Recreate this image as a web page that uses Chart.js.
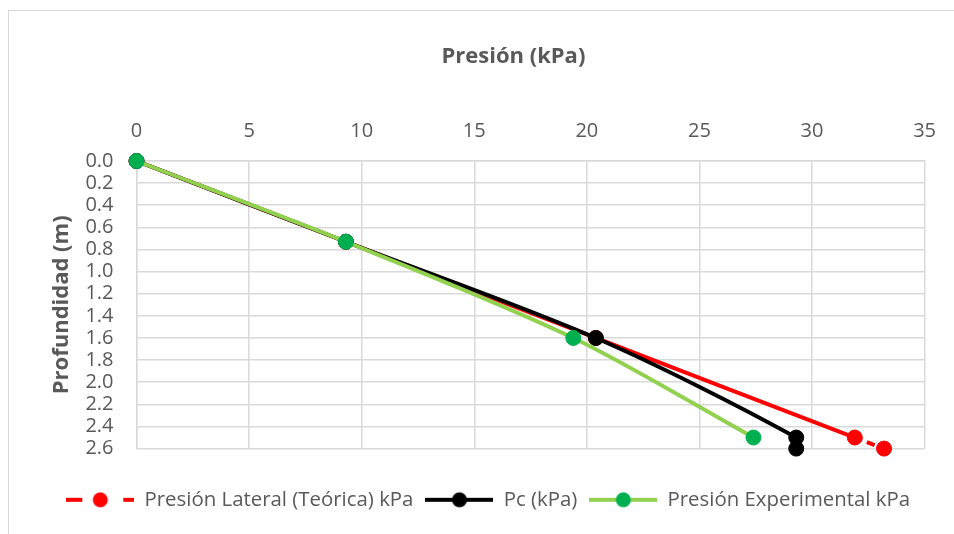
<!DOCTYPE html>
<html>
<head>
<meta charset="utf-8">
<script src="https://cdn.jsdelivr.net/npm/chart.js@4.4.1/dist/chart.umd.min.js"></script>
<style>
  html, body { margin: 0; padding: 0; background: #ffffff; }
  #wrap { position: relative; width: 954px; height: 534px; overflow: hidden; }
  #wrap canvas { position: absolute; left: 0; top: 0; }
  #frame { position: absolute; left: 8px; top: 10px; width: 1000px; height: 600px;
           border: 1px solid #d9d9d9; pointer-events: none; }
</style>
</head>
<body>
<div id="wrap">
  <canvas id="chart" width="954" height="534"></canvas>
  <div id="frame"></div>
</div>
<script>
// Series names (legend)
const seriesNames = ['Presión Lateral (Teórica) kPa', 'Pc (kPa)', 'Presión Experimental kPa'];

// Presión Lateral (Teórica): pressure (kPa) vs depth (m)
const lateralDepth = [0, 0.73, 1.6, 2.5, 2.6];
const lateralPressure = [0, 9.3, 20.4, 31.9, 33.2];

// Pc (kPa)
const pcDepth = [0, 0.73, 1.6, 2.5, 2.6];
const pcPressure = [0, 9.3, 20.4, 29.3, 29.3];

// Presión Experimental
const expDepth = [0, 0.73, 1.6, 2.5];
const expPressure = [0, 9.3, 19.4, 27.4];

// Axis titles and ranges
const xTitle = 'Presión (kPa)';
const yTitle = 'Profundidad (m)';
const xRange = [0, 35];
const yRange = [0, 2.6];

const FONT = "'Open Sans', sans-serif";
const TEXT = '#595959';
const GRID = '#d9d9d9';
const RED = '#ff0000';
const BLACK = '#000000';
const GREEN_LINE = '#92d050';
const GREEN_MARK = '#00b050';

Chart.defaults.font.family = FONT;

const toPoints = (xs, ys) => xs.map((x, i) => ({ x: x, y: ys[i] }));

// Legend key: a short line with the marker in its middle
function legendSymbol(lineColor, markerColor, dashed) {
  const c = document.createElement('canvas');
  c.width = 68; c.height = 20;
  const g = c.getContext('2d');
  g.strokeStyle = lineColor;
  g.lineWidth = 4;
  g.beginPath();
  if (dashed) {
    g.moveTo(0, 10); g.lineTo(16, 10);
    g.moveTo(57, 10); g.lineTo(68, 10);
  } else {
    g.moveTo(0, 10); g.lineTo(68, 10);
  }
  g.stroke();
  g.fillStyle = markerColor;
  g.beginPath();
  g.arc(34, 10, 7.5, 0, Math.PI * 2);
  g.fill();
  return c;
}

const symbols = [
  legendSymbol(RED, RED, true),
  legendSymbol(BLACK, BLACK, false),
  legendSymbol(GREEN_LINE, GREEN_MARK, false)
];

function series(label, xs, ys, lineColor, markColor, order, extra) {
  return Object.assign({
    label: label,
    data: toPoints(xs, ys),
    showLine: true,
    clip: false,
    borderColor: lineColor,
    backgroundColor: markColor,
    borderWidth: 4,
    tension: 0.3,
    pointRadius: 7.5,
    pointHoverRadius: 7.5,
    pointBackgroundColor: markColor,
    pointBorderColor: markColor,
    pointBorderWidth: 1,
    order: order
  }, extra || {});
}

new Chart(document.getElementById('chart'), {
  type: 'scatter',
  data: {
    datasets: [
      series(seriesNames[0], lateralPressure, lateralDepth, RED, RED, 3, {
        segment: {
          borderDash: ctx => ctx.p1DataIndex === lateralPressure.length - 1 ? [8, 5] : undefined
        }
      }),
      series(seriesNames[1], pcPressure, pcDepth, BLACK, BLACK, 2),
      series(seriesNames[2], expPressure, expDepth, GREEN_LINE, GREEN_MARK, 1)
    ]
  },
  options: {
    responsive: false,
    animation: false,
    devicePixelRatio: 1,
    layout: { padding: { left: 40, right: 17.6, top: 10, bottom: 14 } },
    scales: {
      x: {
        type: 'linear',
        position: 'top',
        min: xRange[0],
        max: xRange[1],
        ticks: { stepSize: 5, autoSkip: false, color: TEXT, font: { size: 20 }, padding: 18 },
        grid: { color: GRID, lineWidth: 1.5, drawTicks: false },
        border: { color: GRID, width: 1.5 },
        title: {
          display: true,
          text: xTitle + '\u00a0\u00a0\u00a0\u00a0\u00a0\u00a0',
          color: TEXT,
          font: { size: 22, weight: 'bold' },
          padding: { top: 33.8, bottom: 30.8 }
        }
      },
      y: {
        type: 'linear',
        reverse: true,
        min: yRange[0],
        max: yRange[1],
        ticks: {
          stepSize: 0.2,
          autoSkip: false,
          color: TEXT,
          font: { size: 20 },
          padding: 23,
          callback: v => Number(v).toFixed(1)
        },
        grid: { color: GRID, lineWidth: 1.5, drawTicks: false },
        border: { color: GRID, width: 1.5 },
        title: {
          display: true,
          text: yTitle,
          color: TEXT,
          font: { size: 22, weight: 'bold' },
          padding: { top: 9, bottom: -13 }
        }
      }
    },
    plugins: {
      tooltip: { enabled: false },
      legend: {
        position: 'bottom',
        title: { display: true, text: '', padding: { top: 17, bottom: 0 }, font: { size: 10 } },
        labels: {
          usePointStyle: true,
          pointStyleWidth: 68,
          padding: 12,
          color: TEXT,
          font: { size: 20.4 },
          generateLabels: chart => chart.data.datasets.map((ds, i) => ({
            text: ds.label,
            pointStyle: symbols[i],
            fillStyle: ds.backgroundColor,
            strokeStyle: ds.borderColor,
            lineWidth: 0,
            hidden: false,
            fontColor: TEXT,
            datasetIndex: i
          }))
        }
      }
    }
  }
});
</script>
</body>
</html>
